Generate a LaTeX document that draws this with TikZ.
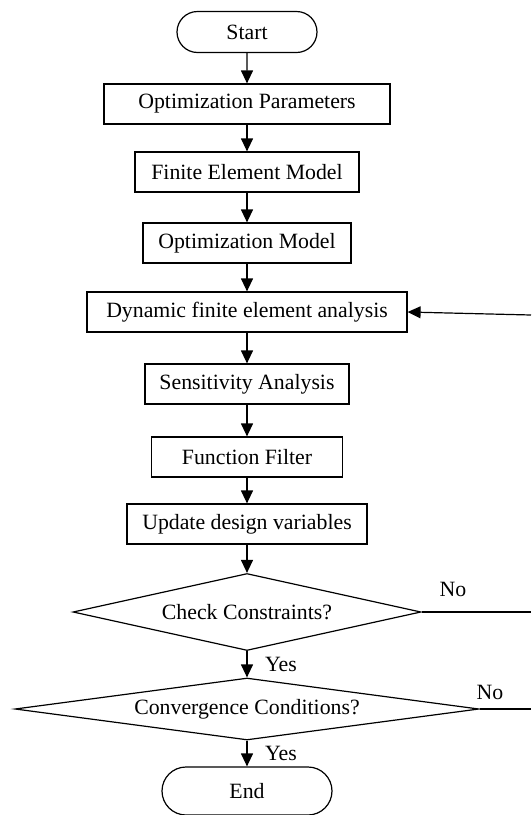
\documentclass[tikz,border=0pt]{standalone}
\usepackage{fontspec}
\setmainfont{Liberation Serif}
\usetikzlibrary{shapes.geometric,shapes.misc,arrows.meta}
\begin{document}
\begin{tikzpicture}[x=0.5pt,y=-0.5pt,line width=0.6pt,->,>={Triangle[width=6pt,length=6.5pt]},font=\fontsize{10.9}{13}\selectfont]
  \def\f{0.5}
  \def\cx{247}

\useasboundingbox (0,0) rectangle (531,815);
\tikzstyle{block}=[draw,rectangle,inner sep=0pt,minimum height=40*\f pt]
\tikzstyle{term}=[draw,rounded rectangle,inner sep=0pt,minimum height=41*\f pt]
\tikzstyle{test}=[draw,diamond,inner sep=0pt]
\tikzstyle{tag}=[inner sep=0pt]
\node[term,minimum width=140*\f pt] (start) at (\cx,32) {Start};
\node[block,minimum width=286*\f pt] (par) at (\cx,104) {Optimization Parameters};
\draw (start) -- (par);
\node[block,minimum width=224*\f pt] (fem) at (\cx,172) {Finite Element Model};
\draw (par) -- (fem);
\node[block,minimum width=208*\f pt] (optm) at (\cx,243) {Optimization Model};
\draw (fem) -- (optm);
\node[block,minimum width=320*\f pt] (dyn) at (\cx,312) {Dynamic finite element analysis};
\draw (optm) -- (dyn);
\node[block,minimum width=204*\f pt] (sens) at (\cx,384) {Sensitivity Analysis};
\draw (dyn) -- (sens);
\node[block,minimum width=191*\f pt] (filt) at (\cx,457) {Function Filter};
\draw (sens) -- (filt);
\node[block,minimum width=240*\f pt] (upd) at (\cx,524) {Update design variables};
\draw (filt) -- (upd);
\node[test,shape aspect=4.6,minimum width=348*\f pt,minimum height=77*\f pt] (cons) at (\cx,612) {Check Constraints?};
\draw (upd) -- (cons);
\node[test,shape aspect=7.5,minimum width=464*\f pt,minimum height=62*\f pt] (conv) at (\cx,709) {Convergence Conditions?};
\draw (cons) -- (conv);
\node[term,minimum width=170*\f pt,minimum height=48*\f pt] (end) at (\cx,791) {End};
\draw (conv) -- (end);
% yes / no labels
\node[tag] (yes1) at (281,664) {Yes};
\node[tag] (yes2) at (281,753) {Yes};
\node[tag] (no1) at (453,589) {No};
\node[tag] (no2) at (490,692) {No};
% lines leaving the picture
\coordinate (outa) at (531,612);
\coordinate (outb) at (531,709);
\coordinate (back) at (531,315);
\draw[-] (cons.east) -- (outa);
\draw[-] (conv.east) -- (outb);
\draw (back) -- (dyn.east);
\end{tikzpicture}
\end{document}
